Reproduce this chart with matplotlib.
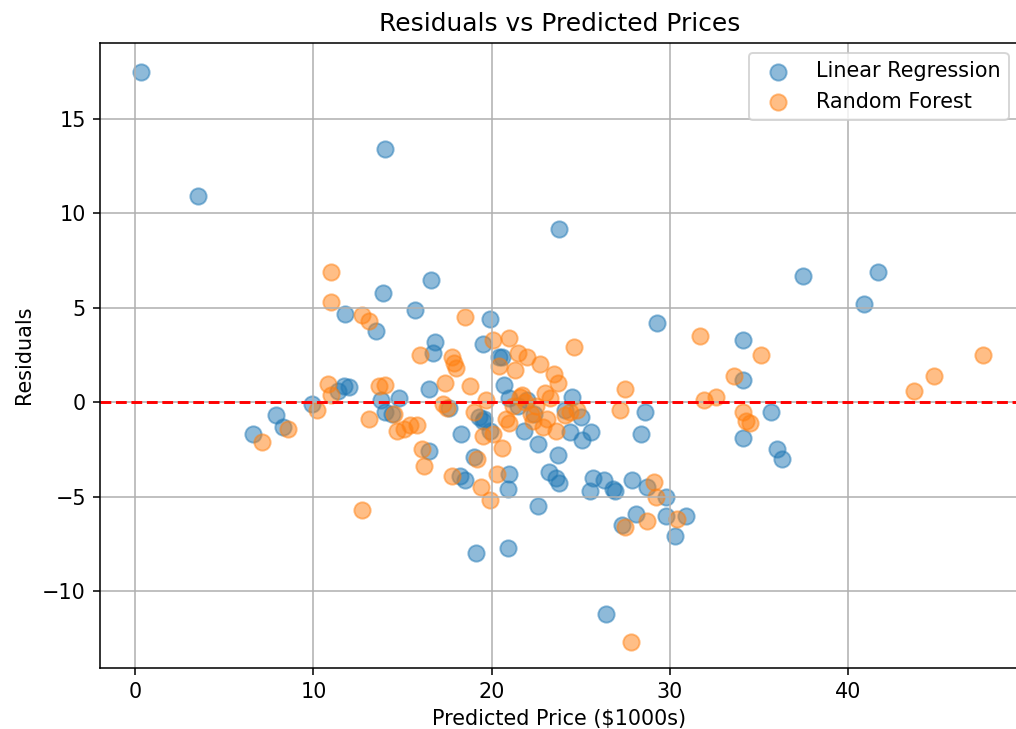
import matplotlib
matplotlib.use("Agg")
import matplotlib.pyplot as plt

# predicted price (x) and residual (y)
lr_pred = [0.3, 3.5, 14.0, 23.8, 13.9, 16.6, 15.7, 11.8, 19.9, 29.3,
           37.5, 41.7, 40.9, 34.1, 16.8, 16.7, 13.5, 20.6, 19.5, 11.7,
           11.4, 13.8, 34.1, 35.7, 34.1, 36.0, 36.3, 6.6, 7.9, 8.3,
           9.9, 14.0, 14.4, 14.8, 16.5, 16.5, 18.3, 18.2, 18.5, 19.0,
           19.1, 19.3, 19.5, 19.9, 20.9, 20.9, 21.0, 20.7, 21.0, 21.8,
           22.4, 22.6, 22.6, 23.2, 23.6, 23.8, 23.7, 24.4, 24.5, 25.0,
           25.1, 25.6, 25.5, 25.7, 26.3, 26.4, 26.8, 26.9, 27.3, 27.9,
           28.1, 28.4, 28.6, 28.7, 29.8, 29.8, 30.3, 30.9, 20.4, 21.5,
           17.6, 19.6, 22.0, 24.1, 12.0]
lr_resid = [17.5, 10.9, 13.4, 9.2, 5.8, 6.5, 4.9, 4.7, 4.4, 4.2,
            6.7, 6.9, 5.2, 3.3, 3.2, 2.6, 3.8, 2.4, 3.1, 0.85,
            0.6, 0.1, 1.2, -0.5, -1.9, -2.5, -3.0, -1.7, -0.7, -1.3,
            -0.1, -0.5, -0.6, 0.2, 0.7, -2.6, -1.7, -3.9, -4.1, -2.9,
            -8.0, -0.8, -1.0, -1.5, -4.6, -7.7, -3.8, 0.9, 0.2, -1.5,
            -0.6, -2.2, -5.5, -3.7, -4.0, -4.3, -2.8, -1.6, 0.3, -0.8,
            -2.0, -1.6, -4.7, -4.0, -4.1, -11.2, -4.6, -4.7, -6.5, -4.1,
            -5.9, -1.7, -0.5, -4.5, -5.0, -6.0, -7.1, -6.0, 2.4, -0.2,
            -0.3, -0.9, 0.1, -0.4, 0.8]

rf_pred = [11.0, 11.0, 12.7, 13.1, 18.5, 24.6, 31.7, 35.1, 32.6, 31.9,
           33.6, 34.1, 34.3, 34.5, 43.7, 44.8, 47.6, 10.8, 11.0, 10.2,
           7.1, 8.6, 12.7, 13.1, 13.7, 14.0, 14.5, 14.7, 15.1, 15.4,
           16.0, 16.1, 16.2, 17.3, 17.5, 17.8, 17.9, 18.0, 17.4, 17.8,
           18.8, 19.0, 19.2, 19.4, 19.9, 20.1, 20.4, 20.1, 20.3, 21.0,
           21.3, 21.5, 22.0, 21.6, 21.2, 21.9, 22.2, 22.7, 23.5, 23.7,
           23.0, 23.1, 23.6, 24.1, 24.8, 27.2, 27.5, 27.5, 27.8, 28.7,
           29.1, 29.2, 30.4, 19.7, 21.0, 22.5, 20.8, 21.7, 22.9, 24.4,
           15.8, 19.5, 20.6, 22.3, 23.3]
rf_resid = [6.9, 5.3, 4.6, 4.3, 4.5, 2.9, 3.5, 2.5, 0.3, 0.1,
            1.4, -0.5, -1.0, -1.1, 0.6, 1.4, 2.5, 0.95, 0.4, -0.4,
            -2.1, -1.4, -5.7, -0.9, 0.85, 0.9, -0.6, -1.5, -1.4, -1.2,
            2.5, -2.5, -3.4, -0.1, -0.3, 2.4, 2.1, 1.8, 1.0, -3.9,
            0.85, -0.5, -3.0, -4.5, -5.2, 3.3, 1.9, -1.7, -3.8, 3.4,
            1.7, 2.6, 2.4, 0.3, -0.2, 0.0, -0.6, 2.0, 1.5, 1.0,
            0.5, -0.9, -1.5, -0.7, -0.4, -0.4, 0.7, -6.6, -12.7, -6.3,
            -4.2, -5.0, -6.2, 0.1, -1.1, -0.2, -0.9, 0.4, -1.3, -0.5,
            -1.2, -1.8, -2.4, -1.0, 0.2]

plt.rcParams["font.size"] = 10.7

fig = plt.figure(figsize=(1016 / 140, 729 / 140), dpi=140)
ax = fig.add_axes([0.098, 0.0837, 0.905, 0.858])

ax.scatter(lr_pred, lr_resid, alpha=0.5, s=70, label="Linear Regression")
ax.scatter(rf_pred, rf_resid, alpha=0.5, s=70, label="Random Forest")
ax.axhline(0, color="r", linestyle="--")

ax.set_xlim(-2.0, 49.6)
ax.set_ylim(-14.07, 19.05)
ax.set_title("Residuals vs Predicted Prices", fontsize=12.8)
ax.set_xlabel("Predicted Price ($1000s)")
ax.set_ylabel("Residuals")
ax.legend(loc="upper right")
ax.grid(True)
ax.spines["right"].set_visible(False)

fig.savefig("out.png", dpi=140)
